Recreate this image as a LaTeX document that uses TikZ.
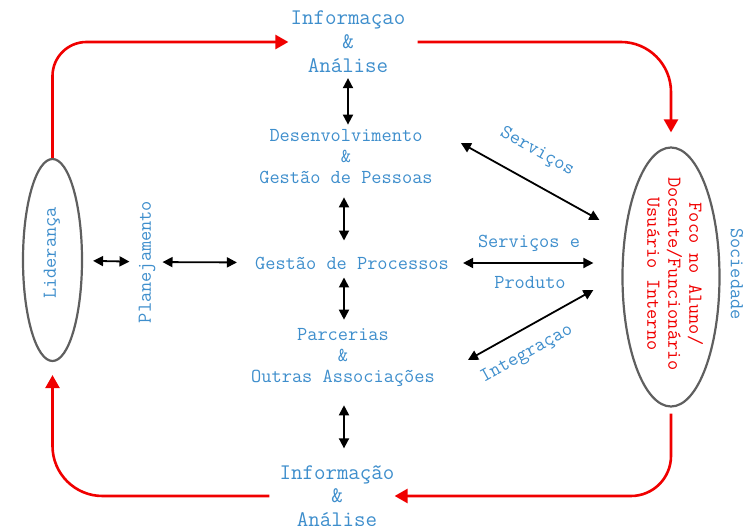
\documentclass[tikz,border=0pt]{standalone}
\usetikzlibrary{shapes.geometric,arrows.meta}
\definecolor{labelblue}{RGB}{62,142,204}
\definecolor{loopred}{RGB}{240,0,0}
\definecolor{rimgray}{RGB}{95,95,95}
\begin{document}
\begin{tikzpicture}[x=1pt,y=-1pt,
  lbl/.style={text=labelblue, font=\ttfamily\fontsize{19.8}{21}\selectfont, inner sep=0pt, align=center},
  biglbl/.style={text=labelblue, font=\ttfamily\fontsize{22.3}{24}\selectfont, inner sep=0pt, align=center},
  oval/.style={draw=rimgray, line width=2.2pt, ellipse, inner sep=0pt},
  loop/.style={draw=loopred, line width=2.6pt, -{Triangle[length=13pt,width=14pt]}},
  link/.style={draw=black, line width=1.8pt, {Triangle[length=10pt,width=10pt]}-{Triangle[length=10pt,width=10pt]}}
]
\useasboundingbox (0,0) rectangle (748,526);

% central column
\node[biglbl] (infoT) at (348,42) {Informaçao\\\&\\Análise};
\node[lbl] (desenv) at (346,157) {Desenvolvimento\\\&\\Gestão de Pessoas};
\node[lbl] (gp) at (352,263) {Gestão de Processos};
\node[lbl] (parc) at (343,358) {Parcerias\\\&\\Outras Associações};
\node[biglbl, font=\ttfamily\fontsize{22.3}{23.5}\selectfont] (infoB) at (337,496) {Informação\\\&\\Análise};

% left side
\node[oval, minimum width=59pt, minimum height=202pt] (lid) at (52.5,260) {};
\node[lbl, rotate=90] (lidtxt) at (52,253) {Liderança};
\node[lbl, rotate=90] (plan) at (147,262) {Planejamento};

% right side
\node[oval, minimum width=97pt, minimum height=259pt] (foco) at (671,277) {};
\node[lbl, text=loopred, rotate=-90] (focotxt) at (675,274) {Foco no Aluno/\\Docente/Funcionário\\Usuário Interno};
\node[lbl, rotate=-90] (soc) at (737,274) {Sociedade};

% connector labels
\node[lbl, rotate=-29] (serv) at (537,152) {Serviços};
\node[lbl] (servp) at (529,243) {Serviços e};
\node[lbl] (prod) at (530,283) {Produto};
\node[lbl, rotate=29] (integ) at (527,354) {Integraçao};

% outer loop
\draw[loop, rounded corners=34pt, shorten >=2pt] (lid.north) |- (infoT.west);
\draw[loop, rounded corners=50pt, shorten <=12pt, shorten >=14pt] (infoT.east) -| (foco.north);
\draw[loop, rounded corners=40pt, shorten <=6pt] (foco.south) |- (infoB.east);
\draw[loop, rounded corners=50pt, shorten <=10pt, shorten >=13pt] (infoB.west) -| (lid.south);

% vertical links
\coordinate (spine) at (344,0);
\draw[link, shorten <=5pt, shorten >=5pt] (infoT.south) -- (infoT.south |- desenv.north);
\draw[link, shorten <=13pt, shorten >=16pt] (spine |- desenv.south) -- (spine |- gp.north);
\draw[link, shorten <=8pt, shorten >=9pt] (spine |- gp.south) -- (spine |- parc.north);
\draw[link, shorten <=18pt, shorten >=17pt] (spine |- parc.south) -- (spine |- infoB.north);

% horizontal links
\draw[link, shorten <=10pt, shorten >=9pt] (lid) -- (plan);
\draw[link, shorten <=7pt, shorten >=18pt] (plan) -- (gp);
\draw[link, shorten <=14pt, shorten >=28pt] (gp.east) -- (gp.east -| foco.west);

% diagonal links
\draw[link] ([shift={(28,-14)}]desenv.east) -- ([shift={(-22,-57)}]foco.west);
\draw[link] ([shift={(33,2)}]parc.east) -- ([shift={(-28,13)}]foco.west);
\end{tikzpicture}
\end{document}
